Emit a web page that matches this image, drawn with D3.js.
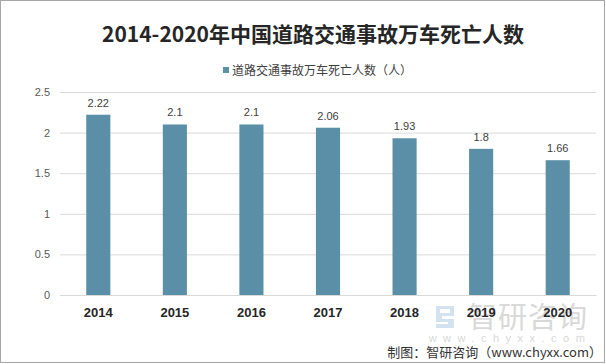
<!DOCTYPE html>
<html>
<head>
<meta charset="utf-8">
<script src="https://cdn.jsdelivr.net/npm/d3@7"></script>
<style>
  body { margin: 0; background: #fff; }
  svg { display: block; font-family: "Noto Sans CJK SC", "Liberation Sans", sans-serif; }
</style>
</head>
<body>
<div id="chart"></div>
<script>
// data
var years = ["2014", "2015", "2016", "2017", "2018", "2019", "2020"];
var deaths = [2.22, 2.1, 2.1, 2.06, 1.93, 1.8, 1.66];
var yTicks = [0, 0.5, 1, 1.5, 2, 2.5];
var seriesName = "道路交通事故万车死亡人数（人）";

var W = 606, H = 364;
var plot = { left: 60, right: 596, top: 92, bottom: 295 };
var barColor = "#5b8fa7";

var svg = d3.select("#chart").append("svg")
    .attr("width", W)
    .attr("height", H);

svg.append("rect")
    .attr("x", 0.5).attr("y", 0.5)
    .attr("width", W - 2).attr("height", H - 2)
    .attr("fill", "#fff")
    .attr("stroke", "#a6a6a6");

var x = d3.scaleBand()
    .domain(years)
    .range([plot.left, plot.right])
    .paddingInner(0.685)
    .paddingOuter(0.3425);

var y = d3.scaleLinear()
    .domain([0, 2.5])
    .range([plot.bottom, plot.top]);

// title + legend
svg.append("text")
    .attr("x", 313).attr("y", 42)
    .attr("text-anchor", "middle")
    .style("font-size", "21px")
    .style("font-weight", "bold")
    .style("fill", "#262626")
    .text("2014-2020年中国道路交通事故万车死亡人数");

svg.append("rect")
    .attr("x", 223).attr("y", 67)
    .attr("width", 6).attr("height", 6)
    .attr("fill", barColor);
svg.append("text")
    .attr("x", 232).attr("y", 74.5)
    .style("font-size", "12px")
    .style("fill", "#404040")
    .text(seriesName);

// gridlines + y axis
var yAxis = svg.append("g")
    .attr("transform", "translate(" + plot.left + ",0)")
    .call(d3.axisLeft(y)
        .tickValues(yTicks)
        .tickFormat(function(d) { return String(d); })
        .tickSize(-(plot.right - plot.left))
        .tickPadding(10));
yAxis.select(".domain").remove();
yAxis.selectAll(".tick line").attr("stroke", "#d9d9d9");
yAxis.selectAll(".tick text")
    .style("font-family", "Liberation Sans, sans-serif")
    .style("font-size", "11px")
    .style("fill", "#595959");

// watermark
var wm = svg.append("g").attr("opacity", 0.8);
wm.append("path")
    .attr("d", "M436,306 h18 v10 h-12 v3 h12 v9 h-18 v-4 h12 v-2 h-12 z M440,309 h10 v4 h-10 z")
    .attr("fill", "#c9dcec")
    .attr("fill-rule", "evenodd");
wm.append("text")
    .attr("x", 528).attr("y", 328)
    .attr("text-anchor", "middle")
    .style("font-size", "29px")
    .style("fill", "#d0d0d0")
    .style("letter-spacing", "1px")
    .text("智研咨询");
wm.append("text")
    .attr("x", 510).attr("y", 342)
    .attr("text-anchor", "middle")
    .style("font-family", "Liberation Sans, sans-serif")
    .style("font-size", "11px")
    .style("letter-spacing", "6.5px")
    .style("fill", "#d0d0d0")
    .text("www.chyxx.com");

// bars
svg.selectAll(".bar")
    .data(deaths)
    .enter().append("rect")
        .attr("class", "bar")
        .attr("x", function(d, i) { return x(years[i]); })
        .attr("y", function(d) { return y(d); })
        .attr("width", x.bandwidth())
        .attr("height", function(d) { return y(0) - y(d); })
        .attr("fill", barColor);

svg.selectAll(".val")
    .data(deaths)
    .enter().append("text")
        .attr("class", "val")
        .attr("x", function(d, i) { return x(years[i]) + x.bandwidth() / 2; })
        .attr("y", function(d) { return y(d) - 8; })
        .attr("text-anchor", "middle")
        .style("font-family", "Liberation Sans, sans-serif")
        .style("font-size", "11px")
        .style("fill", "#404040")
        .text(function(d) { return d; });

// x axis
var xAxis = svg.append("g")
    .attr("transform", "translate(0," + plot.bottom + ")")
    .call(d3.axisBottom(x).tickSize(0).tickPadding(13));
xAxis.select(".domain").attr("stroke", "#d9d9d9");
xAxis.selectAll(".tick text")
    .style("font-family", "Liberation Sans, sans-serif")
    .style("font-size", "13px")
    .style("font-weight", "bold")
    .style("fill", "#262626");

// source
svg.append("text")
    .attr("x", 602).attr("y", 357)
    .attr("text-anchor", "end")
    .style("font-size", "13px")
    .style("fill", "#333")
    .text("制图：智研咨询（www.chyxx.com）");
</script>
</body>
</html>
